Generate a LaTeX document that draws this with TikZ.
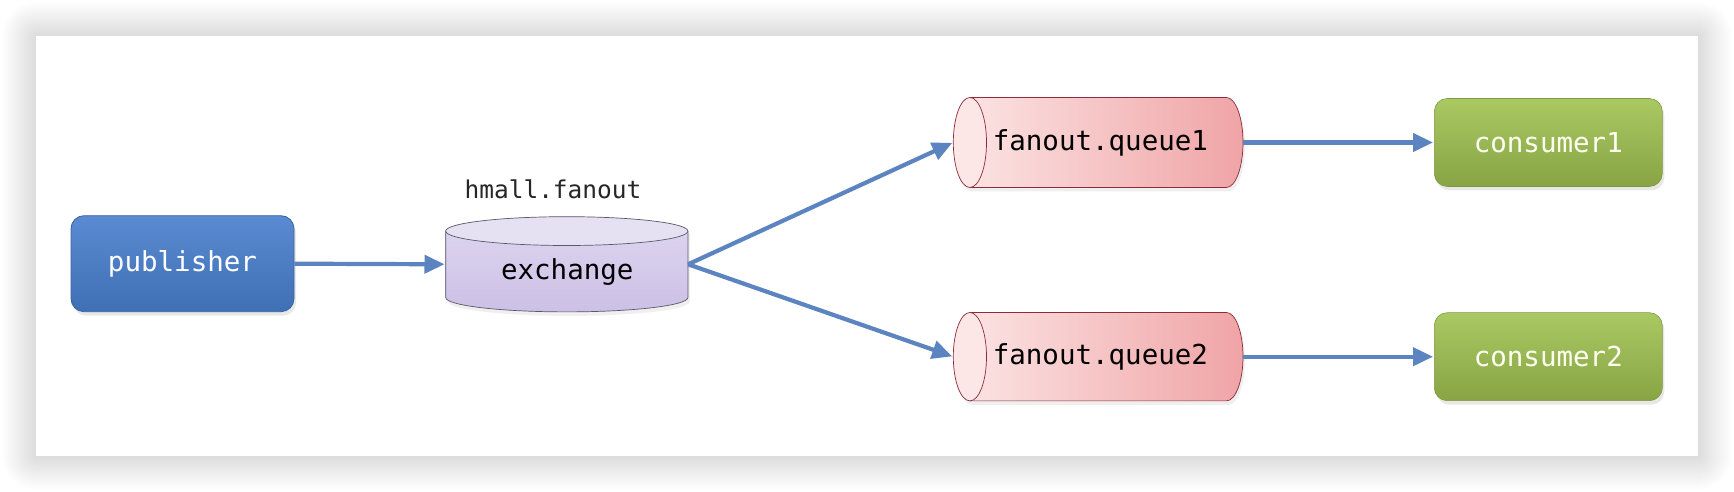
\documentclass[tikz,border=0pt]{standalone}
\usepackage{fontspec}
\setmonofont{DejaVu Sans Mono}
\usetikzlibrary{arrows.meta,shadows}
\definecolor{arrowblue}{HTML}{5B84C0}
\definecolor{pubtop}{HTML}{5A8BD2}
\definecolor{pubbot}{HTML}{3F6FB4}
\definecolor{pubedge}{HTML}{3A64A0}
\definecolor{contop}{HTML}{A9C963}
\definecolor{conbot}{HTML}{88A444}
\definecolor{conedge}{HTML}{7E9A40}
\definecolor{extop}{HTML}{E6E0F3}
\definecolor{exbot}{HTML}{CCC0E6}
\definecolor{exedge}{HTML}{5A5868}
\definecolor{qleft}{HTML}{FCE6E6}
\definecolor{qright}{HTML}{F0A4A6}
\definecolor{qedge}{HTML}{8A2C3A}
\tikzset{
  boxbase/.style={rounded corners=13pt, minimum width=223pt, minimum height=96pt,
    inner sep=0pt, font=\ttfamily\fontsize{27.5}{33}\selectfont, text=white,
    drop shadow={opacity=0.18, shadow xshift=2pt, shadow yshift=-4pt}},
  pubbox/.style={boxbase, draw=pubedge, line width=0.8pt, top color=pubtop, bottom color=pubbot},
  conbox/.style={boxbase, minimum width=228pt, minimum height=88pt, draw=conedge, line width=0.6pt,
    top color=contop, bottom color=conbot, text=white!95!yellow},
  holder/.style={inner sep=0pt, font=\ttfamily\fontsize{27.5}{33}\selectfont, text=black},
  conn/.style={draw=arrowblue, line width=4.2pt, -{Triangle[length=20pt,width=18pt]}, shorten >=1pt},
  cylshadow/.style={drop shadow={opacity=0.12, shadow xshift=2pt, shadow yshift=-4pt}}
}
\begin{document}
\begin{tikzpicture}[x=1pt,y=1pt]
\useasboundingbox (0,0) rectangle (1734,492);
\fill[white] (0,0) rectangle (1734,492);
% panel shadow
\foreach \i in {1,...,34} {
  \fill[black,opacity=0.0052,rounded corners=\i pt] (36-\i,36-\i) rectangle (1698+\i,456+\i);
}
\fill[white] (36,36) rectangle (1698,456);

% publisher
\node[pubbox] (pub) at (182.5,228.3) {publisher};

% exchange cylinder
\shade[top color=extop!70!exbot, bottom color=exbot, cylshadow]
  (445.7,260.9) -- (445.7,194.5) arc[start angle=180,end angle=360,x radius=121.1pt,y radius=14.4pt]
  -- (687.9,260.9) arc[start angle=0,end angle=180,x radius=121.1pt,y radius=14.4pt] -- cycle;
\draw[exedge, line width=0.7pt]
  (445.7,260.9) -- (445.7,194.5) arc[start angle=180,end angle=360,x radius=121.1pt,y radius=14.4pt]
  -- (687.9,260.9);
\filldraw[fill=extop, draw=exedge, line width=0.7pt] (566.8,260.9) ellipse[x radius=121.1pt, y radius=14.4pt];
\node[holder, minimum width=242.2pt, minimum height=95pt] (ex) at (566.8,227.7) {};
\node[holder] (exlabel) at (567.3,220) {exchange};
\node[holder, font=\ttfamily\fontsize{24.5}{29}\selectfont, text=black!85] (fan) at (553,302.9) {hmall.fanout};

% queue 1
\shade[left color=qleft, right color=qright, cylshadow]
  (969.9,394.5) -- (1226.4,394.5) arc[start angle=90,end angle=-90,x radius=16.6pt,y radius=45pt]
  -- (969.9,304.5) arc[start angle=270,end angle=90,x radius=16.6pt,y radius=45pt] -- cycle;
\draw[qedge, line width=0.7pt]
  (969.9,394.5) -- (1226.4,394.5) arc[start angle=90,end angle=-90,x radius=16.6pt,y radius=45pt] -- (969.9,304.5);
\filldraw[fill=qleft, draw=qedge, line width=0.7pt] (969.9,349.5) ellipse[x radius=16.6pt, y radius=45pt];
\node[holder, minimum width=289.7pt, minimum height=90pt] (q1) at (1098.2,349.5) {};
\node[holder] (q1text) at (1100.4,349.5) {fanout.queue1};

% queue 2
\shade[left color=qleft, right color=qright, cylshadow]
  (969.9,179.5) -- (1226.4,179.5) arc[start angle=90,end angle=-90,x radius=16.6pt,y radius=44.2pt]
  -- (969.9,91.1) arc[start angle=270,end angle=90,x radius=16.6pt,y radius=44.2pt] -- cycle;
\draw[qedge, line width=0.7pt]
  (969.9,179.5) -- (1226.4,179.5) arc[start angle=90,end angle=-90,x radius=16.6pt,y radius=44.2pt] -- (969.9,91.1);
\filldraw[fill=qleft, draw=qedge, line width=0.7pt] (969.9,135.3) ellipse[x radius=16.6pt, y radius=44.2pt];
\node[holder, minimum width=289.7pt, minimum height=88.4pt] (q2) at (1098.2,135.3) {};
\node[holder] (q2text) at (1100.4,135.3) {fanout.queue2};

% consumers
\node[conbox] (c1) at (1548.3,349.5) {consumer1};
\node[conbox] (c2) at (1548.3,135.3) {consumer2};

% connectors
\draw[conn] (pub.east) -- (ex.west);
\draw[conn] (ex.east) -- (q1.west);
\draw[conn] (ex.east) -- (q2.west);
\draw[conn] (q1.east) -- (c1.west);
\draw[conn] (q2.east) -- (c2.west);
\end{tikzpicture}
\end{document}
